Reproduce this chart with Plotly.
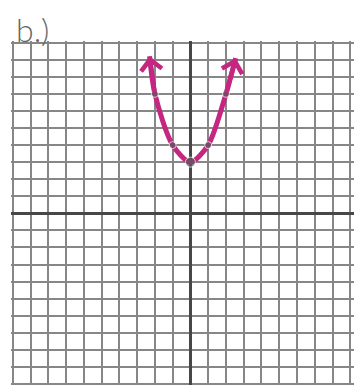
import plotly.graph_objects as go

# plotted points of y = x^2 + 3
point_x = [-2, -1, 0, 1, 2]
point_y = [7, 4, 3, 4, 7]

# hand drawn curve (ends at the arrow tips)
curve_x = [-2.3, -2, -1, 0, 1, 2, 2.55]
curve_y = [9.2, 7, 4, 3, 4, 7, 9.1]

label = 'b.)'

GRID = '#878787'
AXIS = '#474747'
PINK = '#c42680'

fig = go.Figure()

fig.add_trace(go.Scatter(
    x=curve_x, y=curve_y, mode='lines',
    line=dict(color=PINK, width=5, shape='spline', smoothing=0.8),
    hoverinfo='skip',
))
fig.add_trace(go.Scatter(
    x=point_x, y=point_y, mode='markers',
    marker=dict(color='#5a5a5a', size=[7, 7, 10, 7, 7]),
))

# open arrow heads at both ends of the curve
arrows = []
for tip, prev in [(0, 1), (-1, -2)]:
    arrows.append(dict(
        x=curve_x[tip], y=curve_y[tip], ax=curve_x[prev], ay=curve_y[prev],
        xref='x', yref='y', axref='x', ayref='y', text='',
        showarrow=True, arrowhead=4, arrowsize=0.9, arrowwidth=4.5,
        arrowcolor=PINK,
    ))

axis_common = dict(
    dtick=1, showgrid=True, gridcolor=GRID, gridwidth=2,
    zeroline=True, zerolinecolor=AXIS, zerolinewidth=3,
    showticklabels=False, ticks='', showline=False, fixedrange=True,
)

# the page body adds an 8px offset, margins account for it
fig.update_layout(
    width=362, height=385,
    margin=dict(l=3, r=0, t=33, b=0),
    paper_bgcolor='white', plot_bgcolor='white',
    showlegend=False,
    xaxis=dict(range=[-10.1, 10.11], **axis_common),
    yaxis=dict(range=[-10.53, 10.1], **axis_common),
    annotations=arrows + [dict(
        text=label, xref='paper', yref='paper', x=0, y=1,
        xanchor='left', yanchor='top', xshift=3, yshift=33, showarrow=False,
        font=dict(family='Lato', size=32, color='#666666', weight=300),
    )],
)

fig.write_html('out.html')
